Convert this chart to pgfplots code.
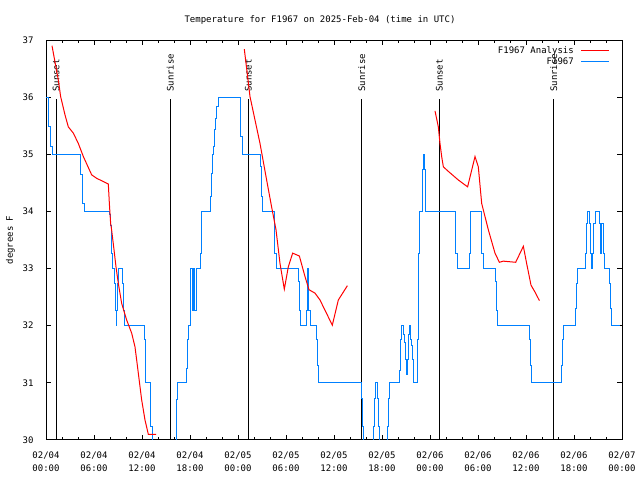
\documentclass[border=0pt]{standalone}
\usepackage{fontspec}
\setmainfont{DejaVu Sans Mono}
\setmonofont{DejaVu Sans Mono}
\usepackage{pgfplots}
\pgfplotsset{compat=1.18}
\definecolor{lblue}{RGB}{0,128,255}
\begin{document}
\begin{tikzpicture}
\useasboundingbox (0,0) rectangle (640bp,480bp);
\begin{axis}[
  at={(46bp,40bp)}, anchor=south west,
  scale only axis, width=576bp, height=400bp,
  xmin=0, xmax=72, ymin=30, ymax=37,
  font=\fontsize{9bp}{13bp}\selectfont,
  /pgf/number format/assume math mode=true,
  axis line style={line width=1bp},
  tick style={black, line width=1bp},
  tick align=inside,
  major tick length=5bp, minor tick length=3bp,
  xtick={0,6,...,72},
  minor x tick num=2,
  xticklabels={{02/04\\00:00},{02/04\\06:00},{02/04\\12:00},{02/04\\18:00},{02/05\\00:00},{02/05\\06:00},{02/05\\12:00},{02/05\\18:00},{02/06\\00:00},{02/06\\06:00},{02/06\\12:00},{02/06\\18:00},{02/07\\00:00}},
  xticklabel style={align=center, yshift=-8bp},
  ytick={30,31,...,37},
  yticklabel style={xshift=-9bp},
  ylabel={degrees F},
  ylabel style={at={(axis description cs:-0.0538,0.5)}, anchor=south, inner sep=0pt},
  title={Temperature for F1967 on 2025-Feb-04 (time in UTC)},
  title style={at={(0.5,1)}, anchor=base, yshift=12bp, xshift=-14bp},
  legend plot pos=right,
  legend cell align=right,
  legend style={draw=none, fill=none, at={(1,1)}, anchor=north east, xshift=-11bp, yshift=-3bp, row sep=-1bp, column sep=5bp, inner sep=1bp},
  legend image code/.code={\draw[#1] (0bp,0bp) -- (28bp,0bp);},
  clip=true,
]
\addlegendimage{red, line width=1bp}
\addlegendentry{F1967 Analysis}
\addlegendimage{lblue, line width=1bp}
\addlegendentry{F1967}

% sunset / sunrise lines
\addplot[black, line width=1bp, forget plot] coordinates {(1.25,30) (1.25,35.97)};
\addplot[black, line width=1bp, forget plot] coordinates {(15.54,30) (15.54,35.97)};
\addplot[black, line width=1bp, forget plot] coordinates {(25.29,30) (25.29,35.97)};
\addplot[black, line width=1bp, forget plot] coordinates {(39.46,30) (39.46,35.97)};
\addplot[black, line width=1bp, forget plot] coordinates {(49.16,30) (49.16,35.97)};
\addplot[black, line width=1bp, forget plot] coordinates {(63.46,30) (63.46,35.97)};
\node[rotate=90, anchor=west, inner sep=0pt] at (axis cs:1.25,36.09) {Sunset};
\node[rotate=90, anchor=west, inner sep=0pt] at (axis cs:15.54,36.09) {Sunrise};
\node[rotate=90, anchor=west, inner sep=0pt] at (axis cs:25.29,36.09) {Sunset};
\node[rotate=90, anchor=west, inner sep=0pt] at (axis cs:39.46,36.09) {Sunrise};
\node[rotate=90, anchor=west, inner sep=0pt] at (axis cs:49.16,36.09) {Sunset};
\node[rotate=90, anchor=west, inner sep=0pt] at (axis cs:63.46,36.09) {Sunrise};

% observations
\addplot[lblue, line width=1bp, const plot, forget plot] table {
x y
0 36
0.25 35.48
0.5 35.13
0.75 35.0
4.33 34.64
4.54 34.14
4.79 34.0
7.92 33.94
8.04 33.76
8.17 33.27
8.29 33.0
8.54 32.74
8.67 32.27
8.75 32.0
8.83 32.27
8.92 32.74
9.04 33.0
9.54 32.74
9.67 32.27
9.79 32.0
12.29 31.75
12.46 31.0
13.0 30.23
13.29 29.5
16.25 30.17
16.33 30.7
16.46 31.0
17.58 31.25
17.7 31.75
17.83 32.0
18.0 32.27
18.1 33.0
18.25 32.27
18.375 33.0
18.5 32.27
18.75 33.0
19.25 33.27
19.375 33.67
19.46 34.0
20.5 34.26
20.625 34.67
20.79 35.0
20.92 35.13
21.08 35.43
21.2 35.63
21.33 35.83
21.58 36.0
24.25 35.31
24.5 35.0
26.75 34.78
26.875 34.26
27.04 34.0
28.54 33.27
28.75 33.0
31.54 32.77
31.67 32.27
31.83 32.0
32.54 32.27
32.67 33.0
32.83 32.27
33.0 32.0
33.79 31.75
33.92 31.3
34.04 31.0
39.375 30.73
39.54 30.23
39.67 29.5
40.92 30.23
41.04 30.73
41.2 31.0
41.42 30.73
41.54 30.23
41.7 29.5
42.67 30.23
42.79 30.73
42.92 31.0
44.17 31.22
44.29 31.75
44.42 32.0
44.71 31.85
44.83 31.7
44.96 31.4
45.08 31.15
45.17 31.4
45.29 31.85
45.42 32.0
45.54 31.75
45.67 31.65
45.79 31.4
45.92 31.0
46.42 31.75
46.54 33.27
46.67 34.0
47.08 34.73
47.17 35.0
47.33 34.73
47.42 34.0
51.2 33.27
51.375 33.0
52.9 33.27
53.04 34.0
54.46 33.27
54.67 33.0
56.2 32.77
56.33 32.27
56.46 32.0
60.375 31.75
60.5 31.3
60.625 31.0
64.46 31.3
64.58 31.75
64.71 32.0
66.2 32.3
66.33 32.74
66.46 33.0
67.375 33.27
67.5 33.79
67.625 34.0
67.875 33.79
68.0 33.27
68.125 33.0
68.25 33.27
68.375 33.79
68.625 34.0
69.125 33.79
69.25 33.27
69.375 33.79
69.625 33.27
69.75 33.0
70.46 32.74
70.58 32.3
70.7 32.0
71.75 32.0
};

% analysis
\addplot[red, line width=1bp, forget plot] coordinates {
(0.75,36.90) (1.54,36.3) (1.83,36.01) (2.375,35.69) (2.79,35.48) (3.42,35.37) (4.04,35.19) (4.67,34.96) (5.71,34.64) (6.33,34.58) (7.79,34.48) (7.92,34.14) (8.08,33.79) (8.2,33.68) (8.5,33.33) (8.75,33.03) (9.04,32.74) (9.46,32.39) (10.08,32.1) (10.71,31.87) (11.125,31.63) (11.54,31.17) (11.96,30.7) (12.375,30.35) (12.79,30.1) (13.75,30.1)
};
\addplot[red, line width=1bp, forget plot] coordinates {
(24.79,36.84) (25.5,36.01) (26.125,35.6) (26.75,35.19) (27.58,34.55) (28.2,34.08) (28.75,33.68) (29.25,33.09) (29.79,32.64) (30.29,33.03) (30.83,33.27) (31.67,33.22) (32.375,32.86) (32.875,32.63) (33.625,32.57) (34.25,32.45) (34.875,32.27) (35.79,32.01) (36.54,32.45) (37.67,32.7)
};
\addplot[red, line width=1bp, forget plot] coordinates {
(48.625,35.76) (49.04,35.48) (49.25,35.19) (49.46,34.96) (49.67,34.78) (50.3,34.7) (51.54,34.55) (52.7,34.43) (53.625,34.96) (54.04,34.78) (54.46,34.14) (55.29,33.68) (56.125,33.27) (56.67,33.11) (57.17,33.13) (58.71,33.11) (59.67,33.39) (60.08,33.09) (60.625,32.71) (61.2,32.57) (61.67,32.44)
};
\end{axis}
\end{tikzpicture}
\end{document}
